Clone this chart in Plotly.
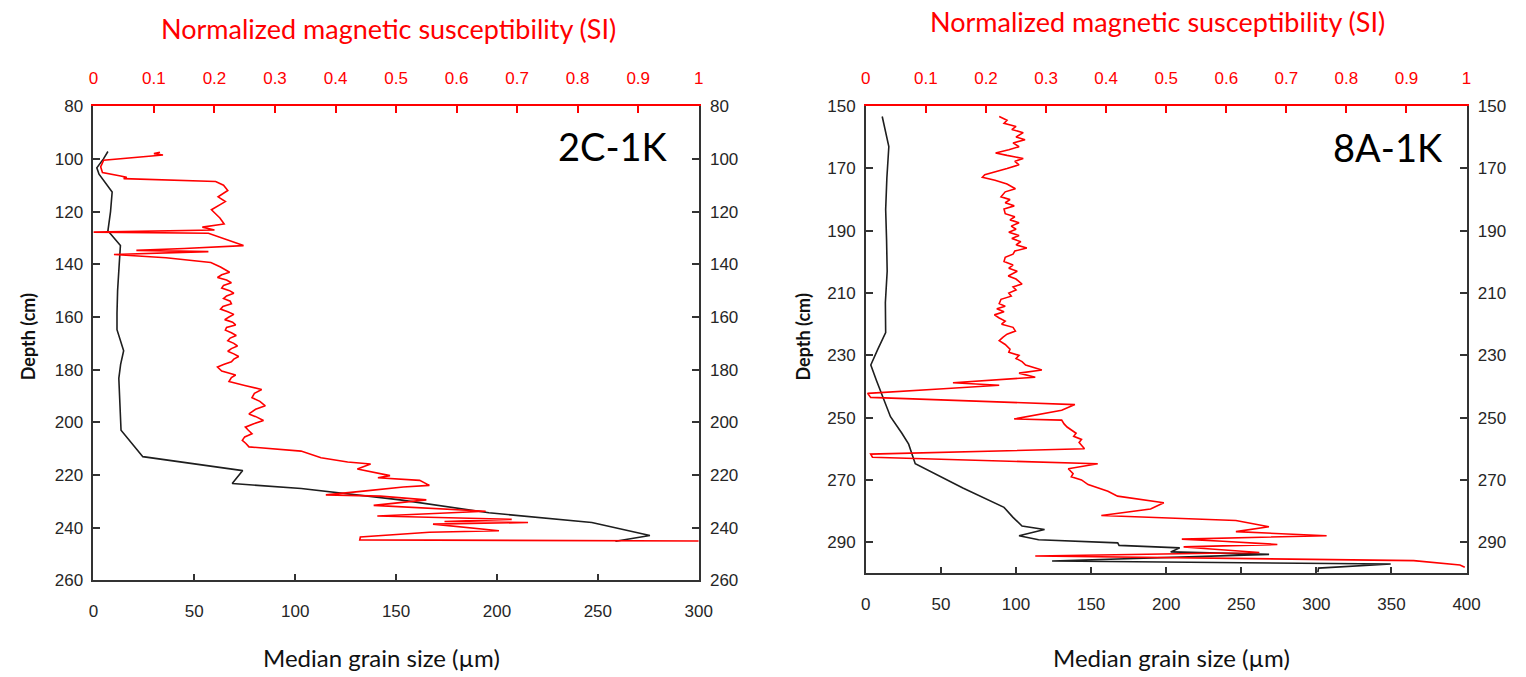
import plotly.graph_objects as go

W, H = 1526, 677

# ---------------- data: core 2C-1K ----------------
grain_2c_depth = [97.2, 100, 103.4, 105.8, 112.6, 120, 127.3, 132.9, 140, 150, 158.7, 164.8,
                  172.8, 178, 183.3, 193, 203, 213, 218.3, 223.2, 225.1, 229.4, 234.3, 238,
                  242.9, 245.1]
grain_2c_um = [7.2, 5, 1.7, 2.8, 9.3, 8.5, 7.2, 13.4, 12.8, 12, 11.7, 11.7,
               15, 13.5, 12.6, 13.2, 13.7, 24.5, 74, 68.8, 103, 152, 196, 247,
               275.8, 258.7]

sus_2c_depth = [97.5, 98, 98.5, 99.5, 100.5, 103, 105.2, 106.5, 107, 107.5, 108.6, 110, 112,
                114.4, 116.2, 119.3, 122.4, 124.7, 125.9, 127, 127.8, 128.2, 129, 130,
                132.9, 134, 134.7, 135.2, 135.8, 136.3, 137.5, 139.3, 141, 142, 143, 144, 145,
                146, 147, 148, 149, 150, 151, 152, 153, 154, 155, 156, 157, 158, 159, 160, 161,
                162, 163, 164, 165, 166, 167, 168, 169, 170, 171, 172, 173, 174, 175, 176, 177,
                178, 179, 180.5, 182, 183, 184.5, 186, 187.5, 189, 190.6, 192, 193.7, 195,
                196.8, 198, 199.3, 200.5, 201.8, 203, 204.3, 205.5,
                206.8, 208, 209.3, 210.9, 213.4, 215, 215.8, 217.7, 220.2, 221, 222, 223.9,
                224.5, 226, 227.5, 228, 229.4, 231.5, 233.7, 235.5, 236.8, 237.6, 238,
                238.6, 240, 241.1, 241.7, 243.5, 244.6, 245]
sus_2c_val = [0.11, 0.1, 0.115, 0.06, 0.017, 0.012, 0.015, 0.045, 0.055, 0.05, 0.202, 0.215, 0.222,
              0.206, 0.218, 0.195, 0.209, 0.216, 0.18, 0.2, 0.0, 0.19, 0.2, 0.215,
              0.248, 0.15, 0.071, 0.19, 0.12, 0.034, 0.12, 0.194, 0.21, 0.218, 0.225, 0.212, 0.205,
              0.22, 0.228, 0.215, 0.212, 0.225, 0.232, 0.22, 0.215, 0.226, 0.228, 0.214, 0.21,
              0.222, 0.232, 0.224, 0.217, 0.23, 0.235, 0.22, 0.218, 0.228, 0.236, 0.226, 0.222,
              0.232, 0.238, 0.228, 0.222, 0.232, 0.24, 0.232, 0.228, 0.215, 0.205, 0.212, 0.235,
              0.228, 0.224, 0.25, 0.278, 0.266, 0.262, 0.275, 0.284, 0.268, 0.257, 0.27, 0.281,
              0.265, 0.251, 0.256, 0.262, 0.25, 0.246, 0.252, 0.257, 0.343, 0.376, 0.42, 0.458,
              0.436, 0.49, 0.47, 0.539, 0.555, 0.512, 0.45, 0.384, 0.474, 0.55, 0.463, 0.648,
              0.469, 0.691, 0.58, 0.718, 0.561, 0.62, 0.67, 0.555, 0.441, 0.44, 1.0]

# ---------------- data: core 8A-1K ----------------
grain_8a_depth = [153.3, 163, 173, 183.2, 193, 203, 213, 222.7, 228, 233.1, 238, 244.5, 249.7,
                  255, 258.5, 264.8, 272.6, 278.8, 282, 284.8, 285.9, 287.9, 289.2, 290.2,
                  291, 291.8, 293.1, 293.9, 296, 297, 298.3, 299.6]
grain_8a_um = [10.9, 15.3, 14, 13.2, 13.8, 14.2, 13, 13.2, 8, 3.3, 7, 12, 16.4,
               24, 28.5, 32.9, 64.6, 92, 98, 104, 119, 102, 115, 167.7,
               168.6, 209, 203, 268.5, 124, 349.5, 301.4, 301]

sus_8a_depth = [153.3, 154.5, 155.5, 156.5, 157.5, 158.5, 159.9, 160.8, 161.8, 163, 164, 165,
                165.8, 166.8, 167.7, 168.8, 170, 171, 172, 172.8, 173.8, 175, 176.5, 177.5,
                179.1, 180, 181, 182, 183, 184.5, 185.5, 186.5, 187.4, 188.5, 189.5, 190.5,
                191.5, 192.5, 193.5, 194.5, 195.5, 196.5, 197.5, 198.5, 199.9, 201, 202, 203,
                204.5, 205.5, 207.1, 208, 209, 210, 211, 212, 213.4, 214.2, 215, 216, 217, 218,
                219, 220, 221, 222.2, 223.2, 224.2, 225.3, 226.5, 228, 229, 230, 231, 232,
                233.1, 234.7, 235.7, 237, 238.8, 239.6, 240.7,
                242.2, 243.5, 245.8, 247.6, 250.4, 250.8, 252, 253, 254, 255, 256, 257, 258,
                260, 261.7, 262.7,
                264.8, 266.4, 268, 269, 270, 271.5, 273.6, 275.2, 277.3, 279.3, 281.4, 283, 285,
                286.6, 287.9, 289, 289.7, 290.7, 291.5, 293.3, 294.4, 295.9, 297.3, 298]
sus_8a_val = [0.222, 0.235, 0.23, 0.25, 0.243, 0.262, 0.25, 0.265, 0.245, 0.255, 0.238, 0.216,
              0.235, 0.262, 0.248, 0.255, 0.235, 0.215, 0.198, 0.194, 0.215, 0.235, 0.249, 0.232,
              0.225, 0.24, 0.232, 0.247, 0.23, 0.232, 0.248, 0.24, 0.255, 0.242, 0.25, 0.238,
              0.255, 0.243, 0.258, 0.25, 0.268, 0.248, 0.245, 0.232, 0.23, 0.245, 0.238, 0.252,
              0.237, 0.25, 0.26, 0.245, 0.25, 0.238, 0.242, 0.225, 0.222, 0.232, 0.218, 0.23,
              0.214, 0.222, 0.232, 0.226, 0.245, 0.249, 0.235, 0.228, 0.222, 0.232, 0.24, 0.238,
              0.255, 0.25, 0.26, 0.266, 0.293, 0.255, 0.282, 0.145, 0.222, 0.129,
              0.003, 0.008, 0.348, 0.326, 0.247, 0.326, 0.33, 0.335, 0.342, 0.35, 0.346, 0.359,
              0.355, 0.364, 0.008, 0.011,
              0.386, 0.337, 0.345, 0.342, 0.359, 0.37, 0.403, 0.419, 0.496, 0.474, 0.392, 0.616,
              0.671, 0.616, 0.767, 0.526, 0.594, 0.685, 0.529, 0.655, 0.282, 0.912, 0.989, 0.997]

# ---------------- ticks ----------------
depth_ticks_2c = [80, 100, 120, 140, 160, 180, 200, 220, 240, 260]
depth_ticks_8a = [150, 170, 190, 210, 230, 250, 270, 290]
grain_ticks_2c = [0, 50, 100, 150, 200, 250, 300]
grain_ticks_8a = [0, 50, 100, 150, 200, 250, 300, 350, 400]
sus_ticks = [0, 0.1, 0.2, 0.3, 0.4, 0.5, 0.6, 0.7, 0.8, 0.9, 1]
sus_ticktext = ["0", "0.1", "0.2", "0.3", "0.4", "0.5", "0.6", "0.7", "0.8", "0.9", "1"]

panel_labels = ["2C-1K", "8A-1K"]
top_title = "Normalized magnetic susceptibility (SI)"
bottom_title = "Median grain size (µm)"
y_title = "Depth (cm)"


def px(x):
    return x / W


def py(y):
    return 1 - y / H


BLACK = "#1e1e1e"
AXC = "#333333"
RED = "#ff0000"
TICKFONT = dict(family="Liberation Sans, Arial, sans-serif", size=17, color="#262626")
TEXTFONT = "Lato, Open Sans, sans-serif"

fig = go.Figure()

# left panel traces
fig.add_trace(go.Scatter(x=grain_2c_um, y=grain_2c_depth, xaxis="x", yaxis="y", mode="lines",
                         line=dict(color=BLACK, width=1.6), showlegend=False, hoverinfo="skip"))
fig.add_trace(go.Scatter(x=sus_2c_val, y=sus_2c_depth, xaxis="x2", yaxis="y", mode="lines",
                         line=dict(color=RED, width=1.6), showlegend=False, hoverinfo="skip"))
fig.add_trace(go.Scatter(x=[None], y=[None], xaxis="x", yaxis="y2", mode="lines",
                         showlegend=False, hoverinfo="skip"))
# right panel traces
fig.add_trace(go.Scatter(x=grain_8a_um, y=grain_8a_depth, xaxis="x3", yaxis="y3", mode="lines",
                         line=dict(color=BLACK, width=1.6), showlegend=False, hoverinfo="skip"))
fig.add_trace(go.Scatter(x=sus_8a_val, y=sus_8a_depth, xaxis="x4", yaxis="y3", mode="lines",
                         line=dict(color=RED, width=1.6), showlegend=False, hoverinfo="skip"))
fig.add_trace(go.Scatter(x=[None], y=[None], xaxis="x3", yaxis="y4", mode="lines",
                         showlegend=False, hoverinfo="skip"))

common = dict(ticks="inside", ticklen=7, tickwidth=1.5, showgrid=False, zeroline=False,
              showline=True, linewidth=1.6, linecolor=AXC, tickcolor=AXC, tickfont=TICKFONT,
              fixedrange=True)
xb = dict(common, ticklabelstandoff=14)
yl = dict(common, ticklabelstandoff=5)
yr = dict(common, ticklabelstandoff=6)
red_common = dict(common, linecolor=RED, tickcolor=RED, ticklabelstandoff=14,
                  tickfont=dict(TICKFONT, color=RED))

dom_x_l = [px(89.5), px(702.5)]
dom_y_l = [py(588), py(100)]
dom_x_r = [px(871.7), px(1480)]
dom_y_r = [py(580.7), py(100)]

fig.update_layout(
    width=W, height=H, margin=dict(l=0, r=0, t=0, b=0),
    paper_bgcolor="white", plot_bgcolor="white", showlegend=False,
    xaxis=dict(xb, domain=dom_x_l, range=[0, 300], tickvals=grain_ticks_2c, anchor="y"),
    xaxis2=dict(red_common, overlaying="x", side="top", anchor="y", range=[0, 1],
                tickvals=sus_ticks, ticktext=sus_ticktext),
    yaxis=dict(yl, domain=dom_y_l, range=[260, 80], tickvals=depth_ticks_2c, anchor="x"),
    yaxis2=dict(yr, overlaying="y", side="right", anchor="x", range=[260, 80],
                tickvals=depth_ticks_2c),
    xaxis3=dict(xb, domain=dom_x_r, range=[0, 400], tickvals=grain_ticks_8a, anchor="y3"),
    xaxis4=dict(red_common, overlaying="x3", side="top", anchor="y3", range=[0, 1],
                tickvals=sus_ticks, ticktext=sus_ticktext),
    yaxis3=dict(yl, domain=dom_y_r, range=[300, 150], tickvals=depth_ticks_8a, anchor="x3"),
    yaxis4=dict(yr, overlaying="y3", side="right", anchor="x3", range=[300, 150],
                tickvals=depth_ticks_8a),
)

ann = []
for cx, cy in [(388, 20), (1167, 13)]:
    ann.append(dict(text=top_title, x=px(cx), y=py(cy), xref="paper", yref="paper",
                    showarrow=False, xanchor="center", yanchor="middle",
                    font=dict(family=TEXTFONT, size=27, color=RED)))
for cx, cy in [(381, 667), (1181, 667)]:
    ann.append(dict(text=bottom_title, x=px(cx), y=py(cy), xref="paper", yref="paper",
                    showarrow=False, xanchor="center", yanchor="middle",
                    font=dict(family=TEXTFONT, size=24, color="#111111")))
for cx, cy in [(23, 337), (808, 337)]:
    ann.append(dict(text="<b>" + y_title + "</b>", x=px(cx), y=py(cy), xref="paper",
                    yref="paper", showarrow=False, textangle=-90, xanchor="center",
                    yanchor="middle", font=dict(family=TEXTFONT, size=18, color="#111111")))
for lab, cx, cy in [(panel_labels[0], 616, 141), (panel_labels[1], 1400, 142)]:
    ann.append(dict(text=lab, x=px(cx), y=py(cy), xref="paper", yref="paper",
                    showarrow=False, xanchor="center", yanchor="middle",
                    font=dict(family=TEXTFONT, size=38, color="#000000")))
fig.update_layout(annotations=ann)

fig.write_html("out.html")
